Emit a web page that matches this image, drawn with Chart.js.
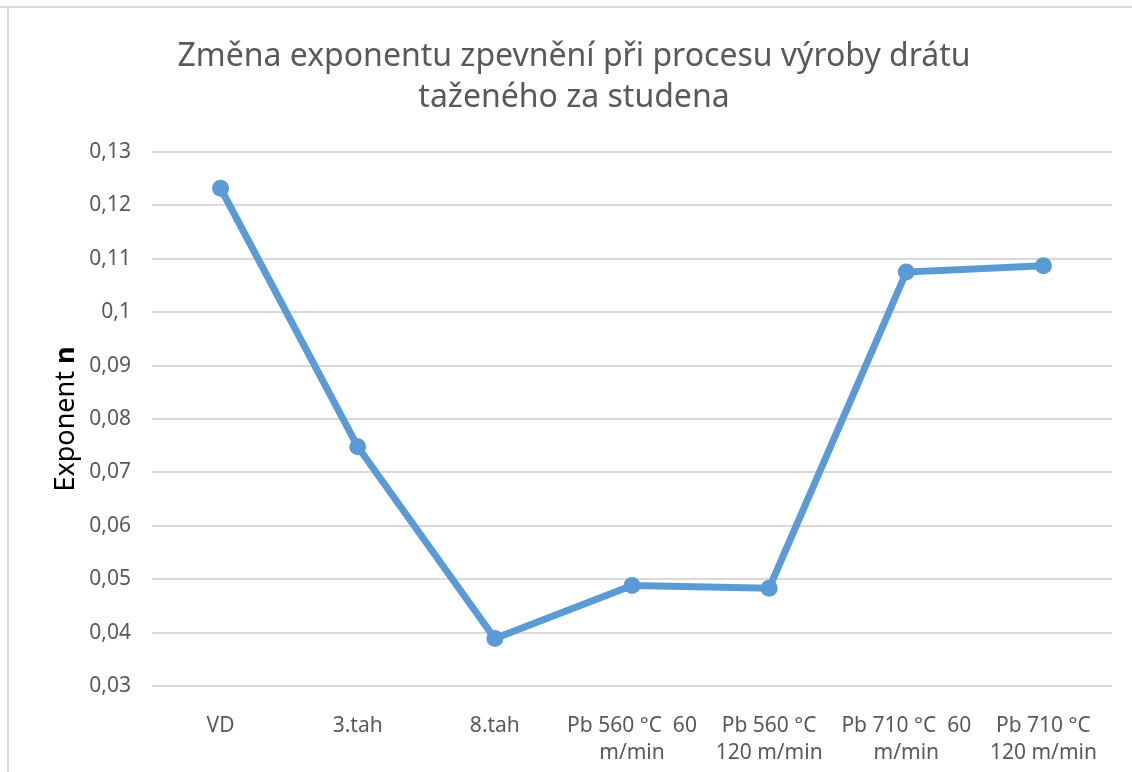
<!DOCTYPE html>
<html>
<head>
<meta charset="utf-8">
<script src="https://cdn.jsdelivr.net/npm/chart.js@4.4.1/dist/chart.umd.min.js"></script>
<style>
  html, body { margin: 0; padding: 0; background: #fff; }
  #wrap { width: 1132px; height: 772px; position: relative; }
</style>
</head>
<body>
<div id="wrap"><canvas id="myChart" width="1132" height="772"></canvas></div>
<script>
// datos del gráfico
const kategorie = [
  'VD',
  '3.tah',
  '8.tah',
  ['Pb 560 °C  60', 'm/min'],
  ['Pb 560 °C', '120 m/min'],
  ['Pb 710 °C  60', 'm/min'],
  ['Pb 710 °C', '120 m/min']
];
const exponentN = [0.1232, 0.0748, 0.0389, 0.0488, 0.0483, 0.1075, 0.1087];
const titulo = ['Změna exponentu zpevnění při procesu výroby drátu', 'taženého za studena'];
const ejeY = ['Exponent ', 'n'];

const grisTexto = '#595959';
const grisRejilla = '#d9d9d9';
const azul = '#5b9bd5';
const fuente = '"Noto Sans", "Open Sans", sans-serif';

// marco del área del gráfico y título del eje Y (con la "n" en negrita)
const marcoYEje = {
  id: 'marcoYEje',
  afterDraw(chart) {
    const ctx = chart.ctx;
    ctx.save();
    ctx.strokeStyle = grisRejilla;
    ctx.lineWidth = 2;
    ctx.beginPath();
    ctx.moveTo(0, 7);
    ctx.lineTo(chart.width, 7);
    ctx.moveTo(8, 7);
    ctx.lineTo(8, chart.height);
    ctx.stroke();

    ctx.translate(66, 419);
    ctx.rotate(-Math.PI / 2);
    ctx.textBaseline = 'middle';
    ctx.fillStyle = '#000';
    const fNormal = '27px ' + fuente;
    const fNegrita = 'bold 27px ' + fuente;
    ctx.font = fNormal;
    const w1 = ctx.measureText(ejeY[0]).width;
    ctx.font = fNegrita;
    const w2 = ctx.measureText(ejeY[1]).width;
    let x = -(w1 + w2) / 2;
    ctx.font = fNormal;
    ctx.textAlign = 'left';
    ctx.fillText(ejeY[0], x, 0);
    ctx.font = fNegrita;
    ctx.fillText(ejeY[1], x + w1, 0);
    ctx.restore();
  }
};

const ctx = document.getElementById('myChart').getContext('2d');
const chart = new Chart(ctx, {
  type: 'line',
  data: {
    labels: kategorie,
    datasets: [{
      label: 'Exponent n',
      data: exponentN,
      borderColor: azul,
      backgroundColor: azul,
      borderWidth: 7,
      pointRadius: 8.5,
      pointBackgroundColor: azul,
      pointBorderWidth: 0,
      tension: 0,
      fill: false
    }]
  },
  options: {
    responsive: false,
    animation: false,
    layout: { padding: { top: 0, left: 36, right: 20, bottom: 0 } },
    plugins: {
      legend: { display: false },
      tooltip: { enabled: false },
      title: {
        display: true,
        text: titulo,
        color: grisTexto,
        font: { family: fuente, size: 32, weight: 'normal', lineHeight: 1.28 },
        padding: { top: 36, bottom: 34 }
      }
    },
    scales: {
      x: {
        offset: true,
        grid: { display: false },
        border: { display: false },
        ticks: {
          color: grisTexto,
          font: { family: fuente, size: 21, lineHeight: 1.29 },
          padding: 18,
          maxRotation: 0,
          autoSkip: false
        },
        afterFit(scale) { scale.height = 86; }
      },
      y: {
        min: 0.03,
        max: 0.13,
        grid: { color: grisRejilla, lineWidth: 2, drawTicks: false },
        border: { display: false },
        ticks: {
          stepSize: 0.01,
          color: grisTexto,
          font: { family: fuente, size: 21 },
          padding: 21,
          callback: (v) => {
            const r = Math.round(v * 100) / 100;
            return String(r).replace('.', ',');
          }
        },
        afterFit(scale) { scale.width = 116; }
      }
    }
  },
  plugins: [marcoYEje]
});
</script>
</body>
</html>
